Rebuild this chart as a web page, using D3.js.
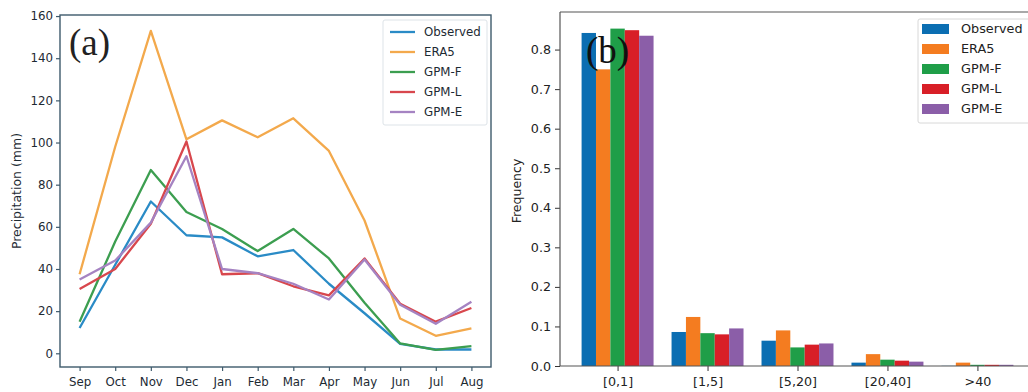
<!DOCTYPE html>
<html>
<head>
<meta charset="utf-8">
<title>precipitation</title>
<script src="https://cdn.jsdelivr.net/npm/d3@7"></script>
<style>
body { margin: 0; background: #fff; }
svg text { font-family: "DejaVu Sans", sans-serif; }
.panel-tag { font-family: "Liberation Serif", "Times New Roman", serif !important; }
</style>
</head>
<body>
<script>
// panel (a): monthly precipitation
var months = ["Sep","Oct","Nov","Dec","Jan","Feb","Mar","Apr","May","Jun","Jul","Aug"];
var observed = [12, 42, 72, 56, 55, 46, 49, 33, 19, 4.5, 1.8, 1.8];
var era5     = [37.5, 98, 153, 101.5, 110.5, 102.5, 111.5, 96, 63, 16.5, 8.3, 11.8];
var gpmF     = [15, 53, 87, 67, 59, 48.5, 59, 45, 24, 4.7, 1.6, 3.4];
var gpmL     = [30.5, 40, 61.5, 100.5, 37.5, 38, 31.8, 27.5, 45, 23.5, 15, 21.5];
var gpmE     = [35, 44, 62, 93.5, 40, 38, 33, 25.5, 44.5, 23, 14, 24.5];
var yTicksA  = [0, 20, 40, 60, 80, 100, 120, 140, 160];

// panel (b): frequency of daily precipitation classes
var classes   = ["[0,1]", "[1,5]", "[5,20]", "[20,40]", ">40"];
var fObserved = [0.842, 0.086, 0.064, 0.0085, 0.0004];
var fEra5     = [0.750, 0.124, 0.090, 0.030, 0.0085];
var fGpmF     = [0.853, 0.083, 0.047, 0.016, 0.003];
var fGpmL     = [0.849, 0.080, 0.054, 0.0135, 0.003];
var fGpmE     = [0.835, 0.095, 0.057, 0.011, 0.003];
var yTicksB   = [0.0, 0.1, 0.2, 0.3, 0.4, 0.5, 0.6, 0.7, 0.8];

var names = ["Observed", "ERA5", "GPM-F", "GPM-L", "GPM-E"];
var lineColors = ["#2a8bc6", "#f3a94c", "#3c9e50", "#d8474d", "#a583c2"];
var barColors  = ["#0b6eb2", "#f47c20", "#1f9e48", "#d81f27", "#8b5ea8"];

var svg = d3.select("body").append("svg").attr("width", 1028).attr("height", 392);

// ---------- panel (a) ----------
var seriesA = [observed, era5, gpmF, gpmL, gpmE];
var xA = d3.scaleLinear().domain([-0.55, 11.55]).range([60, 491]);
var yA = d3.scaleLinear().domain([-6.5, 160.5]).range([367, 15]);
var frameA = "#3e5a6c";

var gA = svg.append("g");
var axBottomA = gA.append("g").attr("transform", "translate(0,367)")
	.call(d3.axisBottom(xA).tickValues(d3.range(months.length)).tickFormat(function(d){ return months[d]; }).tickSizeOuter(0).tickSize(4).tickPadding(4));
var axLeftA = gA.append("g").attr("transform", "translate(60,0)")
	.call(d3.axisLeft(yA).tickValues(yTicksA).tickSizeOuter(0).tickSize(4).tickPadding(3));
[axBottomA, axLeftA].forEach(function(a){
	a.select(".domain").remove();
	a.selectAll("line").attr("stroke", frameA).attr("stroke-width", 1.2);
	a.selectAll("text").attr("fill", "#1d2a33").style("font-size", "11.8px");
});
axBottomA.selectAll("text").attr("dy", "0.9em");

var line = d3.line().x(function(d, i){ return xA(i); }).y(function(d){ return yA(d); });
gA.selectAll("path.series").data(seriesA).enter().append("path")
	.attr("class", "series")
	.attr("d", line)
	.attr("fill", "none")
	.attr("stroke", function(d, i){ return lineColors[i]; })
	.attr("stroke-width", 2.3)
	.attr("stroke-linejoin", "round");

gA.append("rect").attr("x", 60).attr("y", 15).attr("width", 431).attr("height", 352)
	.attr("fill", "none").attr("stroke", frameA).attr("stroke-width", 1.4);

gA.append("text").attr("transform", "translate(21,191) rotate(-90)")
	.attr("text-anchor", "middle").attr("fill", "#1d2a33").style("font-size", "12.5px")
	.text("Precipitation (mm)");

gA.append("text").attr("class", "panel-tag").attr("x", 69).attr("y", 55)
	.style("font-size", "37px").attr("fill", "#222").text("(a)");

var legA = gA.append("g").attr("transform", "translate(383,20)");
legA.append("rect").attr("width", 104).attr("height", 105).attr("rx", 2)
	.attr("fill", "#fff").attr("stroke", "#dde3e8");
names.forEach(function(n, i){
	var yy = 12 + i * 20;
	legA.append("line").attr("x1", 7).attr("x2", 32).attr("y1", yy).attr("y2", yy)
		.attr("stroke", lineColors[i]).attr("stroke-width", 2.3);
	legA.append("text").attr("x", 41).attr("y", yy).attr("dy", "0.35em")
		.attr("fill", "#1d2a33").style("font-size", "11.8px").text(n);
});

// ---------- panel (b) ----------
var seriesB = [fObserved, fEra5, fGpmF, fGpmL, fGpmE];
var xB = d3.scaleLinear().domain([-0.64, 4.64]).range([560, 1035]);
var yB = d3.scaleLinear().domain([0, 0.895]).range([366, 12]);
var bw = 0.16;

var gB = svg.append("g");
seriesB.forEach(function(s, k){
	gB.selectAll("rect.s" + k).data(s).enter().append("rect")
		.attr("class", "s" + k)
		.attr("x", function(d, i){ return xB(i + (k - 2.5) * bw); })
		.attr("width", xB(bw) - xB(0))
		.attr("y", function(d){ return yB(d); })
		.attr("height", function(d){ return yB(0) - yB(d); })
		.attr("fill", barColors[k]);
});

var axBottomB = gB.append("g").attr("transform", "translate(0,366)")
	.call(d3.axisBottom(xB).tickValues(d3.range(classes.length)).tickFormat(function(d){ return classes[d]; }).tickSizeOuter(0).tickSize(5).tickPadding(4));
var axLeftB = gB.append("g").attr("transform", "translate(560,0)")
	.call(d3.axisLeft(yB).tickValues(yTicksB).tickFormat(d3.format(".1f")).tickSizeOuter(0).tickSize(5).tickPadding(4));
[axBottomB, axLeftB].forEach(function(a){
	a.select(".domain").remove();
	a.selectAll("line").attr("stroke", "#333");
	a.selectAll("text").attr("fill", "#222").style("font-size", "12.7px");
});
axBottomB.selectAll("text").attr("dy", "0.85em");

gB.append("line").attr("x1", 560).attr("x2", 1028).attr("y1", 12).attr("y2", 12).attr("stroke", "#555").attr("stroke-width", 1.2);
gB.append("line").attr("x1", 560).attr("x2", 1028).attr("y1", 366).attr("y2", 366).attr("stroke", "#555").attr("stroke-width", 1.2);
gB.append("line").attr("x1", 560).attr("x2", 560).attr("y1", 12).attr("y2", 366).attr("stroke", "#555").attr("stroke-width", 1.2);

gB.append("text").attr("transform", "translate(521,191) rotate(-90)")
	.attr("text-anchor", "middle").attr("fill", "#222").style("font-size", "12.5px")
	.text("Frequency");

gB.append("text").attr("class", "panel-tag").attr("x", 586).attr("y", 63)
	.style("font-size", "37px").attr("fill", "#111").text("(b)");

var legB = gB.append("g").attr("transform", "translate(918,19)");
legB.append("rect").attr("width", 118).attr("height", 104).attr("rx", 2)
	.attr("fill", "#fff").attr("fill-opacity", 0.85).attr("stroke", "#d8d8d8");
names.forEach(function(n, i){
	var yy = 10 + i * 20;
	legB.append("rect").attr("x", 4).attr("y", yy - 5).attr("width", 27).attr("height", 10)
		.attr("fill", barColors[i]);
	legB.append("text").attr("x", 43).attr("y", yy).attr("dy", "0.35em")
		.attr("fill", "#222").style("font-size", "12.8px").text(n);
});
</script>
</body>
</html>
